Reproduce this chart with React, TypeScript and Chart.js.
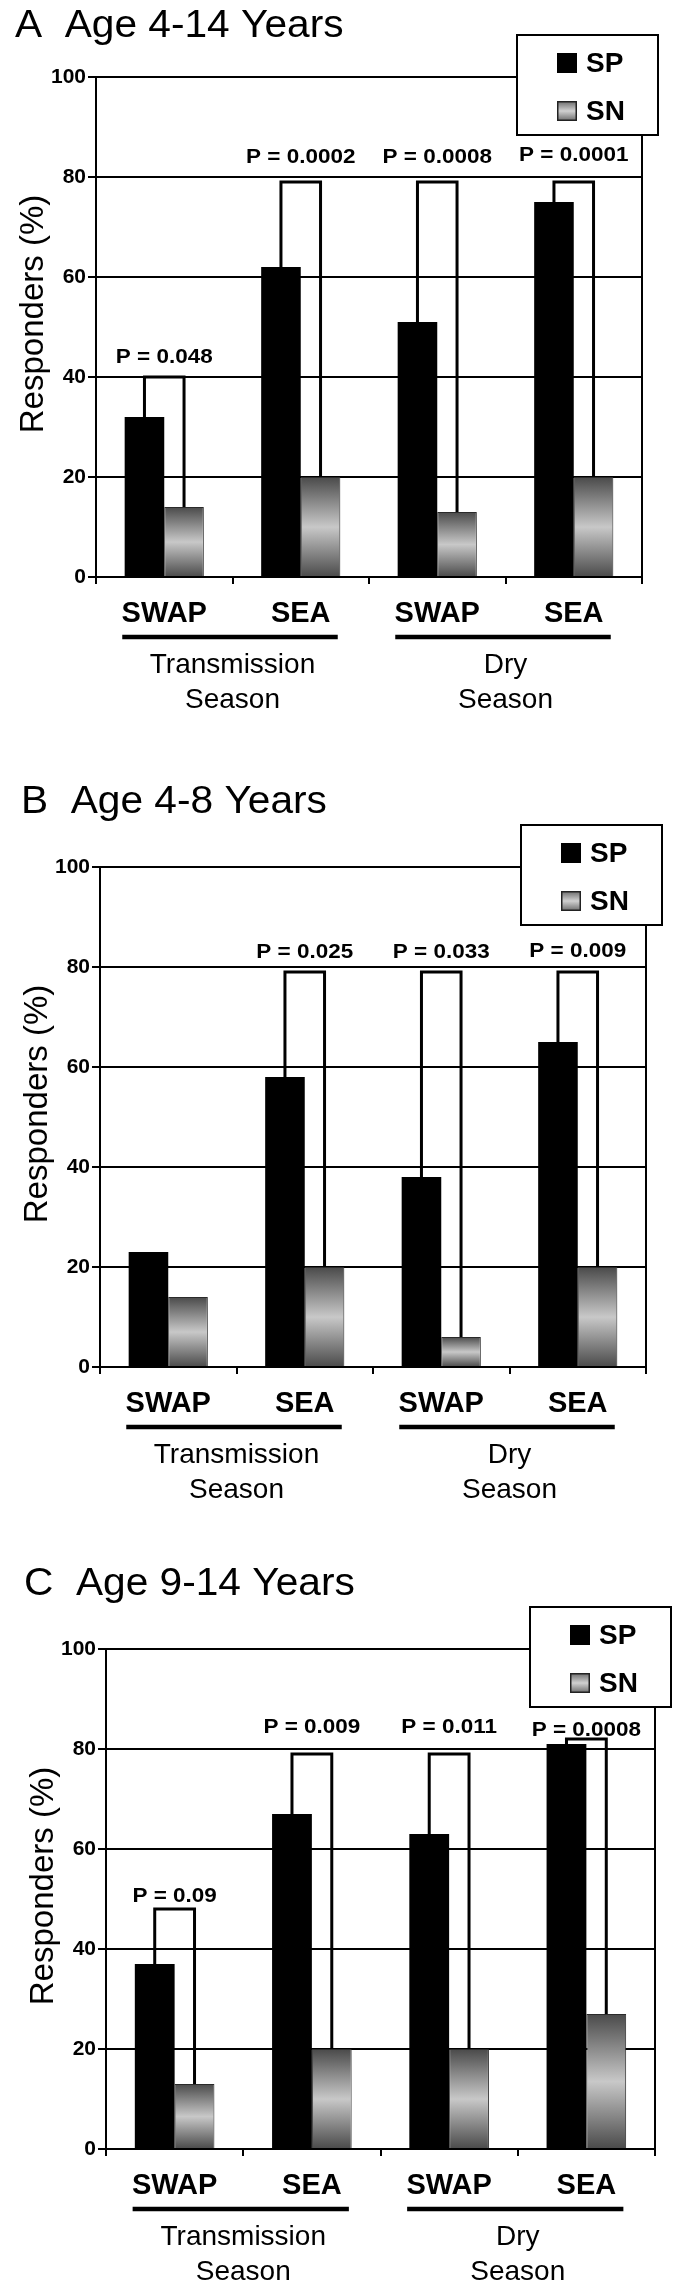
import React, { useEffect, useRef } from 'react';
import { Chart, registerables } from 'chart.js';

Chart.register(...registerables);

// ---------- data ----------
const categories = ['SWAP', 'SEA', 'SWAP', 'SEA'];
const seasonTop = ['Transmission', 'Dry'];
const seasonBottom = ['Season', 'Season'];
const yTickValues = [0, 20, 40, 60, 80, 100];
const seriesNames = ['SP', 'SN'];
const yAxisTitle = 'Responders (%)';

const titleA = 'A  Age 4-14 Years';
const spA = [32, 62, 51, 75];
const snA = [14, 20, 13, 20];
const pLabelsA = ['P = 0.048', 'P = 0.0002', 'P = 0.0008', 'P = 0.0001'];
const bracketTopA = [40, 79, 79, 79];
const pLabelYA = [44, 84, 84, 84.4];

const titleB = 'B  Age 4-8 Years';
const spB = [23, 58, 38, 65];
const snB = [14, 20, 6, 20];
const pLabelsB = ['', 'P = 0.025', 'P = 0.033', 'P = 0.009'];
const bracketTopB = [null, 79, 79, 79];
const pLabelYB = [null, 83, 83, 83.2];

const titleC = 'C  Age 9-14 Years';
const spC = [37, 67, 63, 81];
const snC = [13, 20, 20, 27];
const pLabelsC = ['P = 0.09', 'P = 0.009', 'P = 0.011', 'P = 0.0008'];
const bracketTopC = [48, 79, 79, 82];
const pLabelYC = [50.6, 84.4, 84.4, 83.8];

// ---------- layout / style ----------
const FONT = "'Liberation Sans', Arial, Helvetica, sans-serif";
const W = 681;
const XH = 60;

const panels = [
  { title: titleA, sp: spA, sn: snA, pLabels: pLabelsA, bracketTop: bracketTopA, pLabelY: pLabelYA,
    top: 0, height: 760, area: { left: 96, right: 642, top: 77, bottom: 577 }, titleX: 15, titleBase: 37 },
  { title: titleB, sp: spB, sn: snB, pLabels: pLabelsB, bracketTop: bracketTopB, pLabelY: pLabelYB,
    top: 760, height: 770, area: { left: 100, right: 646, top: 107, bottom: 607 }, titleX: 21, titleBase: 53 },
  { title: titleC, sp: spC, sn: snC, pLabels: pLabelsC, bracketTop: bracketTopC, pLabelY: pLabelYC,
    top: 1530, height: 758, area: { left: 106, right: 655, top: 119, bottom: 619 }, titleX: 24, titleBase: 65 },
];

function makeGradient(ctx: CanvasRenderingContext2D, top: number, bottom: number) {
  const g = ctx.createLinearGradient(0, top, 0, bottom);
  g.addColorStop(0, '#4a4a4a');
  g.addColorStop(0.5, '#c8c8c8');
  g.addColorStop(1, '#4a4a4a');
  return g;
}

function snFill(c: any) {
  const chart = c.chart;
  const y = chart.scales && chart.scales.y;
  if (!y || c.type !== 'data' || !chart.chartArea) return '#999';
  const v = c.raw as number;
  return makeGradient(chart.ctx, y.getPixelForValue(v), y.getPixelForValue(0));
}

function stretchText(ctx: CanvasRenderingContext2D, text: string, x: number, y: number, sx: number) {
  ctx.save();
  ctx.translate(x, y);
  ctx.scale(sx, 1);
  ctx.fillText(text, 0, 0);
  ctx.restore();
}

function annotations(p: any) {
  return {
    id: 'annot' + p.title[0],
    afterDraw(chart: any) {
      const ctx: CanvasRenderingContext2D = chart.ctx;
      const a = chart.chartArea;
      const ys = chart.scales.y;
      const xs = chart.scales.x;
      const spMeta = chart.getDatasetMeta(0);
      const snMeta = chart.getDatasetMeta(1);
      ctx.save();

      // right frame line
      ctx.strokeStyle = '#000';
      ctx.lineWidth = 2;
      ctx.beginPath();
      ctx.moveTo(a.right, ys.getPixelForValue(100));
      ctx.lineTo(a.right, ys.getPixelForValue(0) + 7);
      ctx.stroke();

      // significance brackets
      ctx.lineWidth = 3;
      ctx.lineCap = 'butt';
      ctx.lineJoin = 'miter';
      p.bracketTop.forEach((bt: number | null, i: number) => {
        if (bt == null) return;
        const xl = spMeta.data[i].x;
        const xr = snMeta.data[i].x;
        ctx.beginPath();
        ctx.moveTo(xl, ys.getPixelForValue(p.sp[i]));
        ctx.lineTo(xl, ys.getPixelForValue(bt));
        ctx.lineTo(xr, ys.getPixelForValue(bt));
        ctx.lineTo(xr, ys.getPixelForValue(p.sn[i]));
        ctx.stroke();
      });

      // P labels
      ctx.fillStyle = '#000';
      ctx.font = `bold 21px ${FONT}`;
      ctx.textAlign = 'center';
      ctx.textBaseline = 'middle';
      p.pLabels.forEach((lab: string, i: number) => {
        if (!lab || p.pLabelY[i] == null) return;
        const xc = (spMeta.data[i].x + snMeta.data[i].x) / 2;
        stretchText(ctx, lab, xc, ys.getPixelForValue(p.pLabelY[i]), 1.07);
      });

      // season group underline + labels
      for (let g = 0; g < 2; g++) {
        const c1 = xs.getPixelForValue(g * 2);
        const c2 = xs.getPixelForValue(g * 2 + 1);
        ctx.lineWidth = 4.5;
        ctx.beginPath();
        ctx.moveTo(c1 - 42, a.bottom + 60);
        ctx.lineTo(c2 + 37, a.bottom + 60);
        ctx.stroke();
        ctx.font = `28px ${FONT}`;
        ctx.textAlign = 'center';
        ctx.textBaseline = 'middle';
        ctx.fillText(seasonTop[g], (c1 + c2) / 2, a.bottom + 88);
        ctx.fillText(seasonBottom[g], (c1 + c2) / 2, a.bottom + 123);
      }

      // legend box
      const bx = a.right - 125, by = a.top - 42, bw = 141, bh = 100;
      ctx.fillStyle = '#fff';
      ctx.fillRect(bx, by, bw, bh);
      ctx.strokeStyle = '#000';
      ctx.lineWidth = 2;
      ctx.strokeRect(bx, by, bw, bh);
      const rows = [a.top - 14, a.top + 34];
      rows.forEach((ry, k) => {
        const mx = a.right - 85;
        if (k === 0) {
          ctx.fillStyle = '#000';
          ctx.fillRect(mx, ry - 10, 20, 20);
        } else {
          const g = ctx.createLinearGradient(0, ry - 10, 0, ry + 10);
          g.addColorStop(0, '#6a6a6a');
          g.addColorStop(0.5, '#d0d0d0');
          g.addColorStop(1, '#6a6a6a');
          ctx.fillStyle = g;
          ctx.fillRect(mx, ry - 10, 20, 20);
          ctx.strokeStyle = '#222';
          ctx.lineWidth = 1.5;
          ctx.strokeRect(mx + 0.75, ry - 9.25, 18.5, 18.5);
        }
        ctx.fillStyle = '#000';
        ctx.font = `bold 28px ${FONT}`;
        ctx.textAlign = 'left';
        ctx.textBaseline = 'middle';
        ctx.fillText(seriesNames[k], a.right - 56, ry + 1);
      });

      // panel title
      ctx.font = `38px ${FONT}`;
      ctx.textAlign = 'left';
      ctx.textBaseline = 'alphabetic';
      stretchText(ctx, p.title, p.titleX, p.titleBase, 1.07);

      // y axis title
      ctx.save();
      ctx.translate(a.left - 53, (a.top + a.bottom) / 2 - 13);
      ctx.rotate(-Math.PI / 2);
      ctx.font = `33px ${FONT}`;
      ctx.textAlign = 'center';
      ctx.textBaseline = 'alphabetic';
      ctx.fillText(yAxisTitle, 0, 0);
      ctx.restore();

      ctx.restore();
    },
  };
}

function Panel({ p }: { p: any }) {
  const ref = useRef<HTMLCanvasElement>(null);
  useEffect(() => {
    if (!ref.current) return;
    const A = p.area;
    const chart = new Chart(ref.current, {
      type: 'bar',
      data: {
        labels: categories,
        datasets: [
          { label: seriesNames[0], data: p.sp, backgroundColor: '#000', borderWidth: 0,
            categoryPercentage: 0.58, barPercentage: 1 },
          { label: seriesNames[1], data: p.sn, backgroundColor: snFill as any, borderColor: '#2a2a2a',
            borderWidth: 1, categoryPercentage: 0.58, barPercentage: 1 },
        ],
      },
      options: {
        animation: false,
        responsive: false,
        maintainAspectRatio: false,
        devicePixelRatio: 1,
        events: [],
        layout: { padding: { left: 0, right: W - A.right, top: A.top, bottom: p.height - A.bottom - XH } },
        plugins: { legend: { display: false }, tooltip: { enabled: false }, title: { display: false } },
        scales: {
          x: {
            grid: { offset: true, drawOnChartArea: false, drawTicks: true, tickLength: 7, color: '#000', lineWidth: 2 },
            border: { display: true, color: '#000', width: 2 },
            ticks: { color: '#000', font: { family: FONT, size: 29, weight: 'bold' }, padding: 13, maxRotation: 0, autoSkip: false },
            afterFit: (s: any) => { s.height = XH; },
          },
          y: {
            min: 0,
            max: 100,
            afterBuildTicks: (s: any) => { s.ticks = yTickValues.map((v) => ({ value: v })); },
            grid: { color: '#000', lineWidth: 2, tickLength: 8 },
            border: { display: true, color: '#000', width: 2 },
            ticks: { color: '#000', font: { family: FONT, size: 21, weight: 'bold' }, padding: 2 },
            afterFit: (s: any) => { s.width = A.left; },
          },
        },
      },
      plugins: [annotations(p)],
    } as any);
    return () => chart.destroy();
  }, []);
  return (
    <canvas
      ref={ref}
      width={W}
      height={p.height}
      style={{ position: 'absolute', left: 0, top: p.top, width: W, height: p.height }}
    />
  );
}

export default function App() {
  return (
    <div style={{ position: 'absolute', left: 0, top: 0, width: W, height: 2288, background: '#fff' }}>
      {panels.map((p, i) => (
        <Panel key={i} p={p} />
      ))}
    </div>
  );
}
